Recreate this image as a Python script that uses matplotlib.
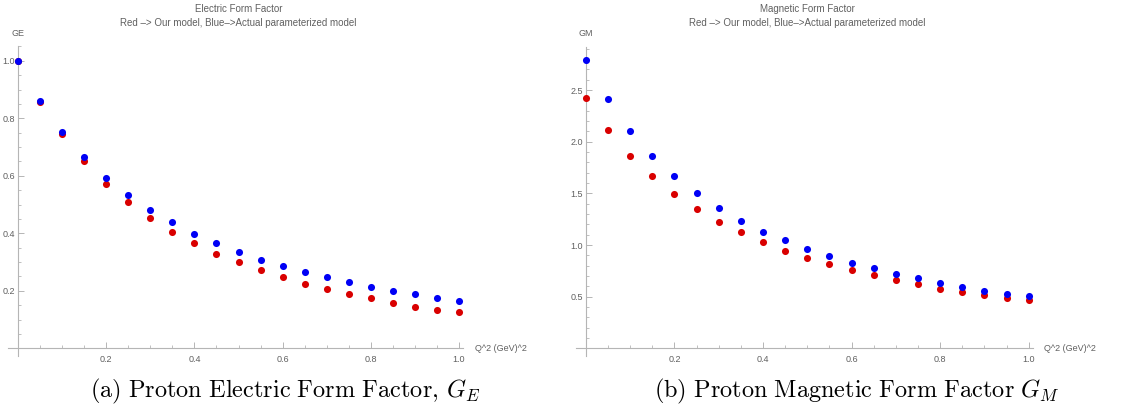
import matplotlib
matplotlib.use("Agg")
import matplotlib.pyplot as plt
import matplotlib.transforms as mtransforms
from matplotlib.ticker import MultipleLocator, FixedLocator
import numpy as np

# Q^2 values (GeV^2)
q2 = [0.0, 0.05, 0.1, 0.15, 0.2, 0.25, 0.3, 0.35, 0.4, 0.45, 0.5,
      0.55, 0.6, 0.65, 0.7, 0.75, 0.8, 0.85, 0.9, 0.95, 1.0]

# electric form factor
ge_model = [1.0, 0.857, 0.744, 0.650, 0.571, 0.510, 0.454, 0.406, 0.366, 0.328, 0.300,
            0.271, 0.248, 0.225, 0.205, 0.188, 0.174, 0.159, 0.145, 0.133, 0.125]
ge_param = [1.0, 0.861, 0.751, 0.665, 0.593, 0.533, 0.481, 0.438, 0.398, 0.366, 0.335,
            0.308, 0.286, 0.265, 0.249, 0.232, 0.214, 0.199, 0.188, 0.176, 0.166]

# magnetic form factor
gm_model = [2.426, 2.116, 1.865, 1.668, 1.491, 1.348, 1.226, 1.123, 1.029, 0.945, 0.877,
            0.813, 0.755, 0.706, 0.661, 0.619, 0.577, 0.545, 0.513, 0.490, 0.465]
gm_param = [2.788, 2.410, 2.107, 1.865, 1.668, 1.500, 1.355, 1.235, 1.129, 1.045, 0.964,
            0.890, 0.829, 0.774, 0.716, 0.677, 0.629, 0.596, 0.558, 0.526, 0.503]

RED = "#d90000"
BLUE = "#0000f5"
AXC = "#b5b5b5"
TXT = "#606060"
SANS = "Liberation Sans"

plt.rcParams["mathtext.fontset"] = "cm"

fig = plt.figure(figsize=(11.39, 4.07), dpi=100)


def panel(rect, ylim, major, minor, red, blue, ylab, title):
    ax = fig.add_axes(rect)
    ax.scatter(q2, red, s=26, color=RED, zorder=3, linewidths=0)
    ax.scatter(q2, blue, s=26, color=BLUE, zorder=4, linewidths=0)
    ax.set_xlim(-0.023, 1.01)
    ax.set_ylim(*ylim)
    for s in ["top", "right"]:
        ax.spines[s].set_visible(False)
    ax.spines["left"].set_position(("data", 0))
    ax.spines["bottom"].set_position(("data", 0))
    for s in ["left", "bottom"]:
        ax.spines[s].set_color(AXC)
        ax.spines[s].set_linewidth(0.8)
    ax.xaxis.set_major_locator(FixedLocator([0.2, 0.4, 0.6, 0.8, 1.0]))
    ax.xaxis.set_minor_locator(MultipleLocator(0.05))
    yt = np.arange(major, ylim[1], major)
    ax.yaxis.set_major_locator(FixedLocator(yt))
    ax.yaxis.set_minor_locator(MultipleLocator(minor))
    ax.tick_params(which="major", direction="in", length=4, width=0.7,
                   color=AXC, labelcolor=TXT, labelsize=6.5)
    ax.tick_params(which="minor", direction="in", length=2, width=0.6, color=AXC)
    ax.tick_params(axis="x", pad=5)
    ax.tick_params(axis="y", pad=2)
    for lab in ax.get_xticklabels() + ax.get_yticklabels():
        lab.set_fontfamily(SANS)
    ax.annotate(ylab, xy=(0, 1), xycoords=("data", "axes fraction"),
                xytext=(0, 9.5), textcoords="offset points", ha="center", va="center",
                fontsize=6.5, color=TXT, family=SANS)
    ax.annotate("Q^2 (GeV)^2", xy=(1, 0), xycoords=("axes fraction", "data"),
                xytext=(8, 0), textcoords="offset points", ha="left", va="center",
                fontsize=6.5, color=TXT, family=SANS)
    tr = mtransforms.blended_transform_factory(ax.transData, fig.transFigure)
    ax.text(0.5, 1 - 9 / 407, title, transform=tr, ha="center", va="center",
            fontsize=7, color=TXT, family=SANS)
    ax.text(0.5, 1 - 23 / 407, "Red \u2013> Our model, Blue\u2013>Actual parameterized model",
            transform=tr, ha="center", va="center", fontsize=7, color=TXT, family=SANS)
    return ax


panel([0.00694, 0.1265, 0.3999, 0.7595], (-0.025, 1.05), 0.2, 0.05,
      ge_model, ge_param, "GE", "Electric Form Factor")
panel([0.5055, 0.1265, 0.4015, 0.7587], (-0.07, 2.92), 0.5, 0.1,
      gm_model, gm_param, "GM", "Magnetic Form Factor")

fig.text(285 / 1139, 1 - 391 / 407, r"$\mathrm{(a)\ Proton\ Electric\ Form\ Factor,}\,G_E$",
         ha="center", va="center", fontsize=17.5)
fig.text(857 / 1139, 1 - 391 / 407, r"$\mathrm{(b)\ Proton\ Magnetic\ Form\ Factor}\ G_M$",
         ha="center", va="center", fontsize=17.5)

fig.savefig("out.png", dpi=100)
